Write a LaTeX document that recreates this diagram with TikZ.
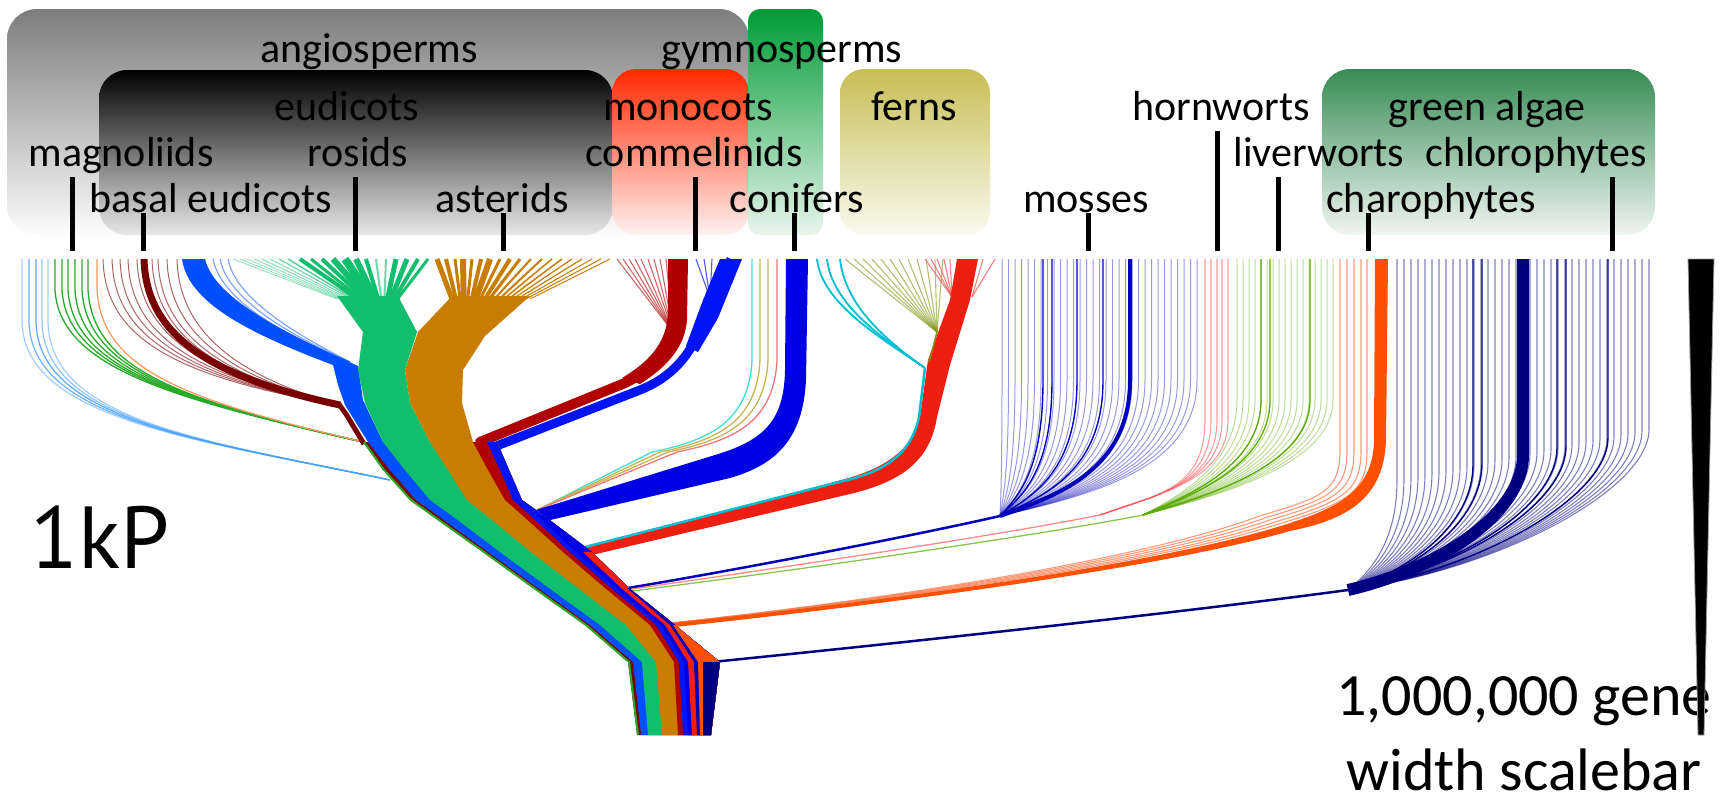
\documentclass[tikz,border=0pt]{standalone}
\usepackage{fontspec}
\setmainfont{Carlito}
\newfontfamily\kpfont{PT Sans}
\definecolor{angTop}{RGB}{125,125,125}
\definecolor{angBot}{RGB}{252,252,252}
\definecolor{eudBot}{RGB}{232,232,232}
\definecolor{monTop}{RGB}{255,40,0}
\definecolor{monBot}{RGB}{255,242,242}
\definecolor{gymTop}{RGB}{0,155,55}
\definecolor{gymBot}{RGB}{232,245,235}
\definecolor{ferTop}{RGB}{200,190,85}
\definecolor{ferBot}{RGB}{250,250,240}
\definecolor{algTop}{RGB}{55,140,85}
\definecolor{algBot}{RGB}{240,246,242}
\definecolor{cLBlue}{RGB}{70,160,255}
\definecolor{cLGreen}{RGB}{40,170,40}
\definecolor{cLOrange}{RGB}{255,150,90}
\definecolor{cDRed}{RGB}{120,0,0}
\definecolor{cBlue}{RGB}{0,80,255}
\definecolor{cGreen}{RGB}{16,190,110}
\definecolor{cOrange}{RGB}{200,125,0}
\definecolor{cMRed}{RGB}{176,0,0}
\definecolor{cMBlue}{RGB}{0,20,245}
\definecolor{cCBlue}{RGB}{0,0,228}
\definecolor{cCyan}{RGB}{0,190,210}
\definecolor{cPCyan}{RGB}{64,224,208}
\definecolor{cPOlive}{RGB}{200,180,80}
\definecolor{cPPink}{RGB}{240,120,120}
\definecolor{cOlive}{RGB}{130,150,20}
\definecolor{cFRed}{RGB}{238,30,16}
\definecolor{cFPink}{RGB}{240,80,80}
\definecolor{cMoss}{RGB}{0,0,185}
\definecolor{cPink}{RGB}{255,90,90}
\definecolor{cLiver}{RGB}{90,170,0}
\definecolor{cChar}{RGB}{255,80,0}
\definecolor{cCharL}{RGB}{255,130,90}
\definecolor{cChlo}{RGB}{0,0,128}
\begin{document}
\begin{tikzpicture}[x=1pt,y=-1pt,line cap=butt,line join=round,
  lab/.style={font=\fontsize{42}{50}\selectfont, anchor=base, inner sep=0pt},
  tickbar/.style={line width=5pt, black},
  sbtext/.style={font=\fontsize{60}{68}\selectfont, anchor=base, inner sep=0pt}]
\useasboundingbox (0,0) rectangle (1730,801);
\fill[white] (0,0) rectangle (1730,801);
% ---------- clade boxes ----------
\shade[top color=angTop, bottom color=angBot, rounded corners=30pt] (7,9) rectangle (749,235);
\shade[top color=black, bottom color=eudBot, rounded corners=28pt] (99,70) rectangle (613,235);
\shade[top color=monTop, bottom color=monBot, rounded corners=24pt] (612,69) rectangle (749,235);
\shade[top color=gymTop, bottom color=gymBot, rounded corners=12pt] (748,9) rectangle (823,235);
\shade[top color=ferTop, bottom color=ferBot, rounded corners=24pt] (840,69) rectangle (990,235);
\shade[top color=algTop, bottom color=algBot, rounded corners=28pt] (1322,69) rectangle (1655,235);
% ---------- labels ----------
\node[lab] (angio) at (369,62) {angiosperms};
\node[lab] (gymno) at (782,62) {gymnosperms};
\node[lab] (eudi) at (347,120) {eudicots};
\node[lab] (mono) at (688,120) {monocots};
\node[lab] (fern) at (914,120) {ferns};
\node[lab] (horn) at (1221,120) {hornworts};
\node[lab] (alg) at (1487,120) {green algae};
\node[lab] (magn) at (121,166) {magnoliids};
\node[lab] (ros) at (358,166) {rosids};
\node[lab] (comm) at (694,166) {commelinids};
\node[lab] (liv) at (1319,166) {liverworts};
\node[lab] (chlo) at (1536,166) {chlorophytes};
\node[lab] (basal) at (211,212) {basal eudicots};
\node[lab] (ast) at (502,212) {asterids};
\node[lab] (conif) at (797,212) {conifers};
\node[lab] (moss) at (1086,212) {mosses};
\node[lab] (char) at (1431,212) {charophytes};
% ---------- tick bars ----------
\draw[tickbar] (72,177) -- (72,251);
\draw[tickbar] (143,213) -- (143,251);
\draw[tickbar] (355,177) -- (355,251);
\draw[tickbar] (503,213) -- (503,251);
\draw[tickbar] (695,177) -- (695,251);
\draw[tickbar] (794,213) -- (794,251);
\draw[tickbar] (1088,213) -- (1088,251);
\draw[tickbar] (1217,131) -- (1217,251);
\draw[tickbar] (1278,177) -- (1278,251);
\draw[tickbar] (1368,213) -- (1368,251);
\draw[tickbar] (1612,177) -- (1612,251);
% ---------- left side branches ----------
\foreach \x/\o in {22/0.5,29/0.8,36/0.9,42/0.6,48/0.5}
  \draw[cLBlue, line width=1.2pt, opacity=\o] (\x,259) -- (\x,320) .. controls (\x,420) and (200,440) .. (390,480);
\foreach \x in {55,62,68,75,82,88}
  \draw[cLGreen, line width=1.3pt] (\x,259) -- (\x,290) .. controls ({\x+5},370) and (180,400) .. (363,442);
\draw[cLOrange, line width=1.2pt] (97,259) -- (97,290) .. controls (102,370) and (185,400) .. (363,442);
\foreach \x in {103,112,120,128,137,152,158,167,177}
  \draw[cDRed, line width=1pt, opacity=0.6] (\x,259) .. controls ({\x+2},330) and ({\x+56},375) .. (340,405);
\draw[cDRed, line width=7pt] (144,259) .. controls (146,330) and (200,375) .. (340,405);
\draw[cDRed, line width=5pt] (338,403) -- (346,414) -- (364,444);
\foreach \x in {213,220,228}
  \draw[cBlue, line width=1.2pt, opacity=0.5] (\x,259) .. controls ({\x+8},300) and ({\x+70},335) .. (350,362);
% blue thick branch
\fill[cBlue] (182,259) .. controls (188,300) and (240,330) .. (333,365) -- (338,385) -- (345,405) -- (368,442) -- (372,452) -- (387,452) -- (383,442) -- (363,400) -- (358,366) .. controls (290,335) and (215,300) .. (205,259) -- cycle;
% rosids fan
\foreach \x/\w/\o in {233/0.8/0.45,240/0.8/0.45,247/0.8/0.45,254/0.9/0.45,262/1/0.5,270/1/0.5,279/1.2/0.6,288/1.5/0.7,300/4/1,311/3/1,322/4/1,333/6/1,345/8/1,356/6/1,366/4/1,376/2/0.6,386/2/0.6,396/5/1,407/5/1,418/4/1,428/3/1}
  \draw[cGreen, line width=\w pt, opacity=\o] (\x,259) -- ({337+(\x-233)*0.31},299);
\fill[cGreen] (337,296) -- (398,296) -- (417,332) -- (405,370) -- (410,403) -- (430,442) -- (433,452) -- (386,452) -- (383,442) -- (365,403) -- (358,370) -- (363,332) -- cycle;
% asterids fan
\foreach \x/\w in {437/5,446/4,455/3,463/6,472/3,481/4,490/6,500/3,510/4,520/3,531/2,542/2,552/1.5,562/1.5,572/1.2,582/1.2,592/1,601/1,610/1}
  \draw[cOrange, line width=\w pt] (\x,259) -- ({452+(\x-437)*0.45},299);
\fill[cOrange] (452,296) -- (530,296) -- (485,336) -- (463,370) -- (462,403) -- (473,442) -- (476,452) -- (433,452) -- (430,442) -- (410,403) -- (405,370) -- (418,332) -- cycle;
% ---------- monocots ----------
\foreach \x in {617,623,629,635,641,648,654,660,666}
  \draw[cMRed, line width=1.1pt, opacity=0.6] (\x,259) -- (673,332);
\foreach \x in {696,704,712}
  \draw[cMBlue, line width=1.1pt, opacity=0.7] (\x,259) -- (710,298);
\fill[cMBlue] (720,259) -- (742,259) -- (718,318) -- (698,352) -- (686,346) -- (703,300) -- cycle;
\draw[cMBlue, line width=9pt] (731,259) -- (712,300) .. controls (700,330) and (690,370) .. (640,390) -- (494,447) -- (503,470);
\fill[cMRed] (668,259) -- (688,259) -- (687,320) .. controls (685,345) and (670,365) .. (640,384) -- (622,378) .. controls (652,360) and (668,340) .. (668,310) -- cycle;
\draw[cMRed, line width=10pt] (678,259) -- (678,300) .. controls (677,335) and (662,365) .. (625,383) -- (480,442) -- (490,470);
% ---------- conifers ----------
\foreach \x/\c in {752/cPCyan,760/cPOlive,768/cPOlive,777/cPPink}
  \draw[\c, line width=1.3pt] (\x,259) -- (\x,360) .. controls ({\x-3},420) and ({\x-40},440) .. ({\x-100},452) -- (537,510);
\fill[cCBlue] (786,259) -- (808,259) -- (806,380) .. controls (803,440) and (775,465) .. (730,478) -- (546,521) -- (536,510) -- (715,455) .. controls (765,440) and (784,420) .. (785,370) -- cycle;
% ---------- ferns ----------
\foreach \x in {817,827,840}
  \draw[cCyan, line width=1.8pt] (\x,259) .. controls ({\x+5},305) and (885,340) .. (925,368);
\foreach \x in {845,854,863,872,881,890,899,908,917,926,935,943}
  \draw[cOlive, line width=1.1pt, opacity=0.6] (\x,259) -- (937,332);
\foreach \x in {925,931,937,944,950}
  \draw[cFPink, line width=1.1pt, opacity=0.7] (\x,259) -- (952,297);
\foreach \x in {983,995}
  \draw[cFPink, line width=1.1pt, opacity=0.7] (\x,259) -- (972,297);
\fill[cFRed] (957,259) -- (978,259) -- (970,300) -- (950,365) -- (937,417) .. controls (930,462) and (900,482) .. (850,494) -- (592,555) -- (582,549) -- (845,479) .. controls (885,468) and (912,450) .. (920,417) -- (928,360) -- (950,300) -- cycle;
\draw[cOlive, line width=1.5pt] (937,332) -- (929,362);
\draw[cCyan, line width=2.5pt] (925,368) -- (919,417) .. controls (911,455) and (883,472) .. (843,481) -- (581,548);
% ---------- mosses ----------
\foreach \x in {1002,1008.5,...,1197}
  \draw[cMoss, line width=1pt, opacity=0.4] (\x,259) -- (\x,380) .. controls (\x,470) and ({1000+0.45*(\x-1000)},495) .. (1000,516);
\foreach \x in {1043,1052,1077,1103}
  \draw[cMoss, line width=1.4pt] (\x,259) -- (\x,380) .. controls (\x,470) and ({1000+0.45*(\x-1000)},495) .. (1000,516);
\draw[cMoss, line width=4pt] (1130,259) -- (1130,380) .. controls (1130,470) and (1058.5,495) .. (1000,516);
\draw[cMoss, line width=2.5pt] (1000,516) .. controls (930,532) and (760,566) .. (628,588);
% ---------- hornworts ----------
\foreach \x in {1205,1211,1217,1222,1228}
  \draw[cPink, line width=1.1pt, opacity=0.6] (\x,259) -- (\x,420) .. controls (\x,470) and (1180,486) .. (1150,498);
\draw[cPink, line width=1.5pt] (1150,498) -- (1100,515);
\draw[cPink, line width=1.3pt, opacity=0.7] (1100,515) .. controls (1000,535) and (800,565) .. (632,589);
% ---------- liverworts ----------
\foreach \x in {1237,1243,...,1333}
  \draw[cLiver, line width=1pt, opacity=0.4] (\x,259) -- (\x,400) .. controls (\x,465) and ({1143+0.4*(\x-1143)},495) .. (1143,515);
\foreach \x in {1261,1270,1310}
  \draw[cLiver, line width=1.3pt] (\x,259) -- (\x,400) .. controls (\x,465) and ({1143+0.4*(\x-1143)},495) .. (1143,515);
\draw[cLiver, line width=1.3pt, opacity=0.7] (1143,515) .. controls (1040,535) and (800,570) .. (632,591);
% ---------- charophytes ----------
\foreach \x/\d in {1340/41,1347/34,1354/27,1361/20,1367/14}
  \draw[cCharL, line width=1.1pt, opacity=0.8] (\x,259) -- (\x,450) .. controls (\x,490) and ({\x-15},{505-0.2*\d}) .. ({1289-0.7*\d},{528-0.3*\d}) .. controls ({1200-0.4*\d},{555-0.25*\d}) and (1000,{590-0.1*\d}) .. (673,623);
\fill[cChar] (1375,259) -- (1388,259) -- (1386,440) .. controls (1384,500) and (1345,520) .. (1290,531) .. controls (1200,557) and (1000,592) .. (675,627) -- (672,623) .. controls (1000,589) and (1200,552) .. (1287,524) .. controls (1340,507) and (1373,490) .. (1374,440) -- cycle;
% ---------- chlorophytes ----------
\foreach \x in {1397,1404,...,1650}
  \draw[cChlo, line width=1.1pt, opacity=0.5] (\x,259) -- (\x,{480-0.2*(\x-1397)}) .. controls (\x,{540-0.2*(\x-1397)}) and ({1348+0.5*(\x-1348)},570) .. (1348,590);
\foreach \x in {1473,1482,1557,1566,1608}
  \draw[cChlo, line width=1.4pt] (\x,259) -- (\x,{480-0.2*(\x-1397)}) .. controls (\x,{540-0.2*(\x-1397)}) and ({1348+0.5*(\x-1348)},570) .. (1348,590);
\draw[cChlo, line width=12pt] (1523,259) -- (1523,455) .. controls (1523,515) and (1435.5,570) .. (1348,590);
\draw[cChlo, line width=2.5pt] (1348,590) .. controls (1200,610) and (950,638) .. (712,662);
% ---------- trunk ----------
\fill[cDRed] (363,442) -- (383,470) -- (410,500) -- (431,515) -- (483,552) -- (533,588) -- (585,625) -- (628,662) -- (637,735) -- (711,735) -- (720,662) -- (675,625) -- (629,588) -- (592,552) -- (543,515) -- (522,500) -- (509,470) -- (497,442) -- cycle;
\fill[cBlue] (368,442) -- (390,470) -- (416,500) -- (437,515) -- (488,552) -- (538,588) -- (590,625) -- (633,662) -- (641,735) -- (711,735) -- (720,662) -- (675,625) -- (629,588) -- (592,552) -- (543,515) -- (522,500) -- (509,470) -- (497,442) -- cycle;
\fill[cGreen] (383,442) -- (405,470) -- (430,500) -- (451,515) -- (500,552) -- (549,588) -- (600,625) -- (642,662) -- (648,735) -- (711,735) -- (720,662) -- (675,625) -- (629,588) -- (592,552) -- (543,515) -- (522,500) -- (509,470) -- (497,442) -- cycle;
\fill[cOrange] (430,442) -- (448,470) -- (467,500) -- (486,515) -- (531,552) -- (578,588) -- (626,625) -- (656,662) -- (662,735) -- (711,735) -- (720,662) -- (675,625) -- (629,588) -- (592,552) -- (543,515) -- (522,500) -- (509,470) -- (497,442) -- cycle;
\fill[cMRed] (473,442) -- (488,470) -- (505,500) -- (522,515) -- (563,552) -- (605,588) -- (650,625) -- (674,662) -- (678,735) -- (711,735) -- (720,662) -- (675,625) -- (629,588) -- (592,552) -- (543,515) -- (522,500) -- (509,470) -- (497,442) -- cycle;
\fill[cMBlue] (487,442) -- (500,470) -- (513,500) -- (530,515) -- (570,552) -- (611,588) -- (656,625) -- (679,662) -- (683,735) -- (711,735) -- (720,662) -- (675,625) -- (629,588) -- (592,552) -- (543,515) -- (522,500) -- (509,470) -- (497,442) -- cycle;
\fill[cCBlue] (537,515) -- (576,552) -- (616,588) -- (661,625) -- (684,662) -- (688,735) -- (711,735) -- (720,662) -- (675,625) -- (629,588) -- (592,552) -- (543,515) -- cycle;
\fill[cFRed] (583,552) -- (621,588) -- (665,625) -- (688,662) -- (692,735) -- (711,735) -- (720,662) -- (675,625) -- (629,588) -- (592,552) -- cycle;
\fill[cMoss] (627,588) -- (670,625) -- (694,662) -- (697,735) -- (711,735) -- (720,662) -- (675,625) -- (629,588) -- cycle;
\fill[cChar] (673,625) -- (698,662) -- (700,735) -- (711,735) -- (720,662) -- (675,625) -- cycle;
\fill[cChlo] (703,662) -- (703,735) -- (711,735) -- (720,662) -- cycle;
\draw[cLGreen, line width=2pt] (364,442) -- (384,470) -- (411,500) -- (432,515) -- (484,552) -- (534,588) -- (586,625) -- (629,662) -- (638,735);
% ---------- texts and scale bar ----------
\node[font=\kpfont\fontsize{88}{96}\selectfont, anchor=base west, inner sep=0pt] (kp) at (30,568) {1kP};
\node[sbtext] (sb1) at (1524,715) {\raisebox{0pt}[\height][0pt]{1,000,000 gene}};
\node[sbtext] (sb2) at (1524,790) {\raisebox{0pt}[\height][0pt]{width scalebar}};
\fill[black, draw=black!40, line width=0.8pt] (1688,259) -- (1714,259) -- (1704,735) -- (1698,735) -- cycle;
\end{tikzpicture}
\end{document}
